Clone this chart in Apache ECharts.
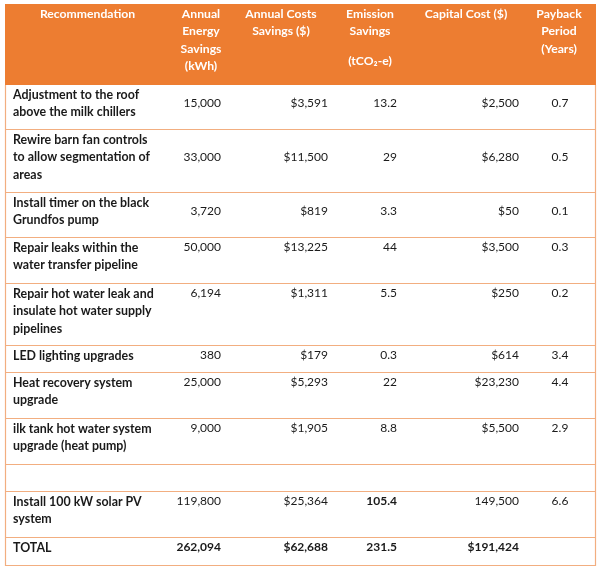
<!DOCTYPE html>
<html><head><meta charset="utf-8">
<script src="https://cdn.jsdelivr.net/npm/echarts@6/dist/echarts.min.js"></script>
<style>html,body{margin:0;padding:0;background:#fff}#c{width:600px;height:568px}</style>
</head><body><div id="c"></div>
<script>
// ---------- DATA ----------
const headerLabels = [
  ["Recommendation"],
  ["Annual", "Energy", "Savings", "(kWh)"],
  ["Annual Costs", "Savings ($)"],
  ["Emission", "Savings", "", "(tCO₂-e)"],
  ["Capital Cost ($)"],
  ["Payback", "Period", "(Years)"]
];
const recommendations = [
  "Adjustment to the roof\nabove the milk chillers",
  "Rewire barn fan controls\nto allow segmentation of\nareas",
  "Install timer on the black\nGrundfos pump",
  "Repair leaks within the\nwater transfer pipeline",
  "Repair hot water leak and\ninsulate hot water supply\npipelines",
  "LED lighting upgrades",
  "Heat recovery system\nupgrade",
  "ilk tank hot water system\nupgrade (heat pump)",
  "",
  "Install 100 kW solar PV\nsystem"
];
const energySavings = [15000, 33000, 3720, 50000, 6194, 380, 25000, 9000, null, 119800];
const costSavings   = [3591, 11500, 819, 13225, 1311, 179, 5293, 1905, null, 25364];
const emissionSavings = [13.2, 29, 3.3, 44, 5.5, 0.3, 22, 8.8, null, 105.4];
const capitalCost   = [2500, 6280, 50, 3500, 250, 614, 23230, 5500, null, 149500];
const paybackYears  = [0.7, 0.5, 0.1, 0.3, 0.2, 3.4, 4.4, 2.9, null, 6.6];
const totalLabel = "TOTAL";
const totals = { energy: 262094, cost: 62688, emission: 231.5, capital: 191424 };
const capitalWithoutDollar = [9];
const boldEmissionRows = [9];

// ---------- LAYOUT ----------
const tableLeft = 5, tableRight = 596, tableTop = 4;
const colEdges = [5, 170, 232, 330, 410, 522, 596];
const numAnchors = [null, 221, 328, 397, 519, 560]; // right edges (payback centered)
const headerHeight = 81;
const rowHeights = [45, 63, 45, 46, 62, 27, 46, 46, 27, 46, 28];
const centerNumbersRows = [0, 1, 2];
const lineH = 17.5;
const ORANGE = '#ED7D31', BORDER = '#F2AE80', TEXT = '#1a1a1a';
const FONT = 'Lato, "Open Sans", sans-serif';

// ---------- BUILD ----------
const fmt = v => v.toLocaleString('en-US');
const rows = [];
rows.push({ kind: 'header' });
recommendations.forEach((rec, i) => {
  const dollarCap = capitalWithoutDollar.indexOf(i) < 0;
  rows.push({
    kind: 'body', idx: i,
    label: rec,
    cells: energySavings[i] == null ? [] : [
      { text: fmt(energySavings[i]), bold: false },
      { text: '$' + fmt(costSavings[i]), bold: false },
      { text: String(emissionSavings[i]), bold: boldEmissionRows.indexOf(i) >= 0 },
      { text: (dollarCap ? '$' : '') + fmt(capitalCost[i]), bold: false },
      { text: String(paybackYears[i]), bold: false }
    ]
  });
});
rows.push({
  kind: 'total', idx: recommendations.length, label: totalLabel,
  cells: [
    { text: fmt(totals.energy), bold: true },
    { text: '$' + fmt(totals.cost), bold: true },
    { text: String(totals.emission), bold: true },
    { text: '$' + fmt(totals.capital), bold: true },
    null
  ]
});
const heights = [headerHeight].concat(rowHeights);
const tops = [];
let acc = tableTop;
heights.forEach(h => { tops.push(acc); acc += h; });

function txt(x, y, text, opts) {
  return {
    type: 'text', x: x, y: y,
    style: Object.assign({
      text: text, fill: TEXT, fontFamily: FONT, fontSize: 12,
      fontWeight: 'normal', align: 'left', verticalAlign: 'middle'
    }, opts || {})
  };
}

function renderItem(params, api) {
  const r = params.dataIndex;
  const row = rows[r];
  const p0 = api.coord([tableLeft, tops[r]]);
  const p1 = api.coord([tableRight, tops[r] + heights[r]]);
  const X = v => api.coord([v, 0])[0];
  const children = [];
  if (row.kind === 'header') {
    children.push({ type: 'rect', shape: { x: p0[0], y: p0[1], width: p1[0] - p0[0], height: p1[1] - p0[1] }, style: { fill: ORANGE } });
    headerLabels.forEach((lines, c) => {
      const cx = (X(colEdges[c]) + X(colEdges[c + 1])) / 2;
      let y = p0[1] + 10;
      lines.forEach(l => {
        if (l === '') { y += lineH * 0.7; return; }
        children.push(txt(cx, y, l, { fill: '#fff', fontWeight: 'bold', align: 'center', fontSize: 12.2 }));
        y += lineH;
      });
    });
  } else {
    const top = p0[1];
    const lines = row.label ? row.label.split('\n') : [];
    lines.forEach((l, k) => {
      children.push(txt(X(13), top + 9.5 + k * lineH, l, { fontWeight: 'bold', fontSize: 12.4 }));
    });
    const numY = centerNumbersRows.indexOf(row.idx) >= 0
      ? top + 9.5 + (lines.length - 1) * lineH / 2
      : top + 9.5;
    row.cells.forEach((cell, c) => {
      if (!cell) return;
      const col = c + 1;
      const isPayback = col === 5;
      children.push(txt(X(numAnchors[col]), numY, cell.text, {
        fontWeight: cell.bold ? 'bold' : 'normal',
        align: isPayback ? 'center' : 'right'
      }));
    });
    const yb = Math.round(p1[1]) - 0.5;
    children.push({ type: 'line', shape: { x1: p0[0], y1: yb, x2: p1[0], y2: yb }, style: { stroke: BORDER, lineWidth: 1.2 } });
    children.push({ type: 'line', shape: { x1: p0[0] + 0.5, y1: top, x2: p0[0] + 0.5, y2: p1[1] }, style: { stroke: BORDER, lineWidth: 1.2 } });
    children.push({ type: 'line', shape: { x1: p1[0] - 0.5, y1: top, x2: p1[0] - 0.5, y2: p1[1] }, style: { stroke: BORDER, lineWidth: 1.2 } });
  }
  return { type: 'group', children: children };
}

const chart = echarts.init(document.getElementById('c'), null, { renderer: 'canvas' });
chart.setOption({
  animation: false,
  grid: { left: 0, right: 0, top: 0, bottom: 0 },
  xAxis: { type: 'value', min: 0, max: 600, show: false },
  yAxis: { type: 'value', min: 0, max: 568, inverse: true, show: false },
  series: [{
    type: 'custom',
    renderItem: renderItem,
    data: rows.map((r, i) => [i]),
    clip: false,
    silent: true
  }]
});
</script>
</body></html>
